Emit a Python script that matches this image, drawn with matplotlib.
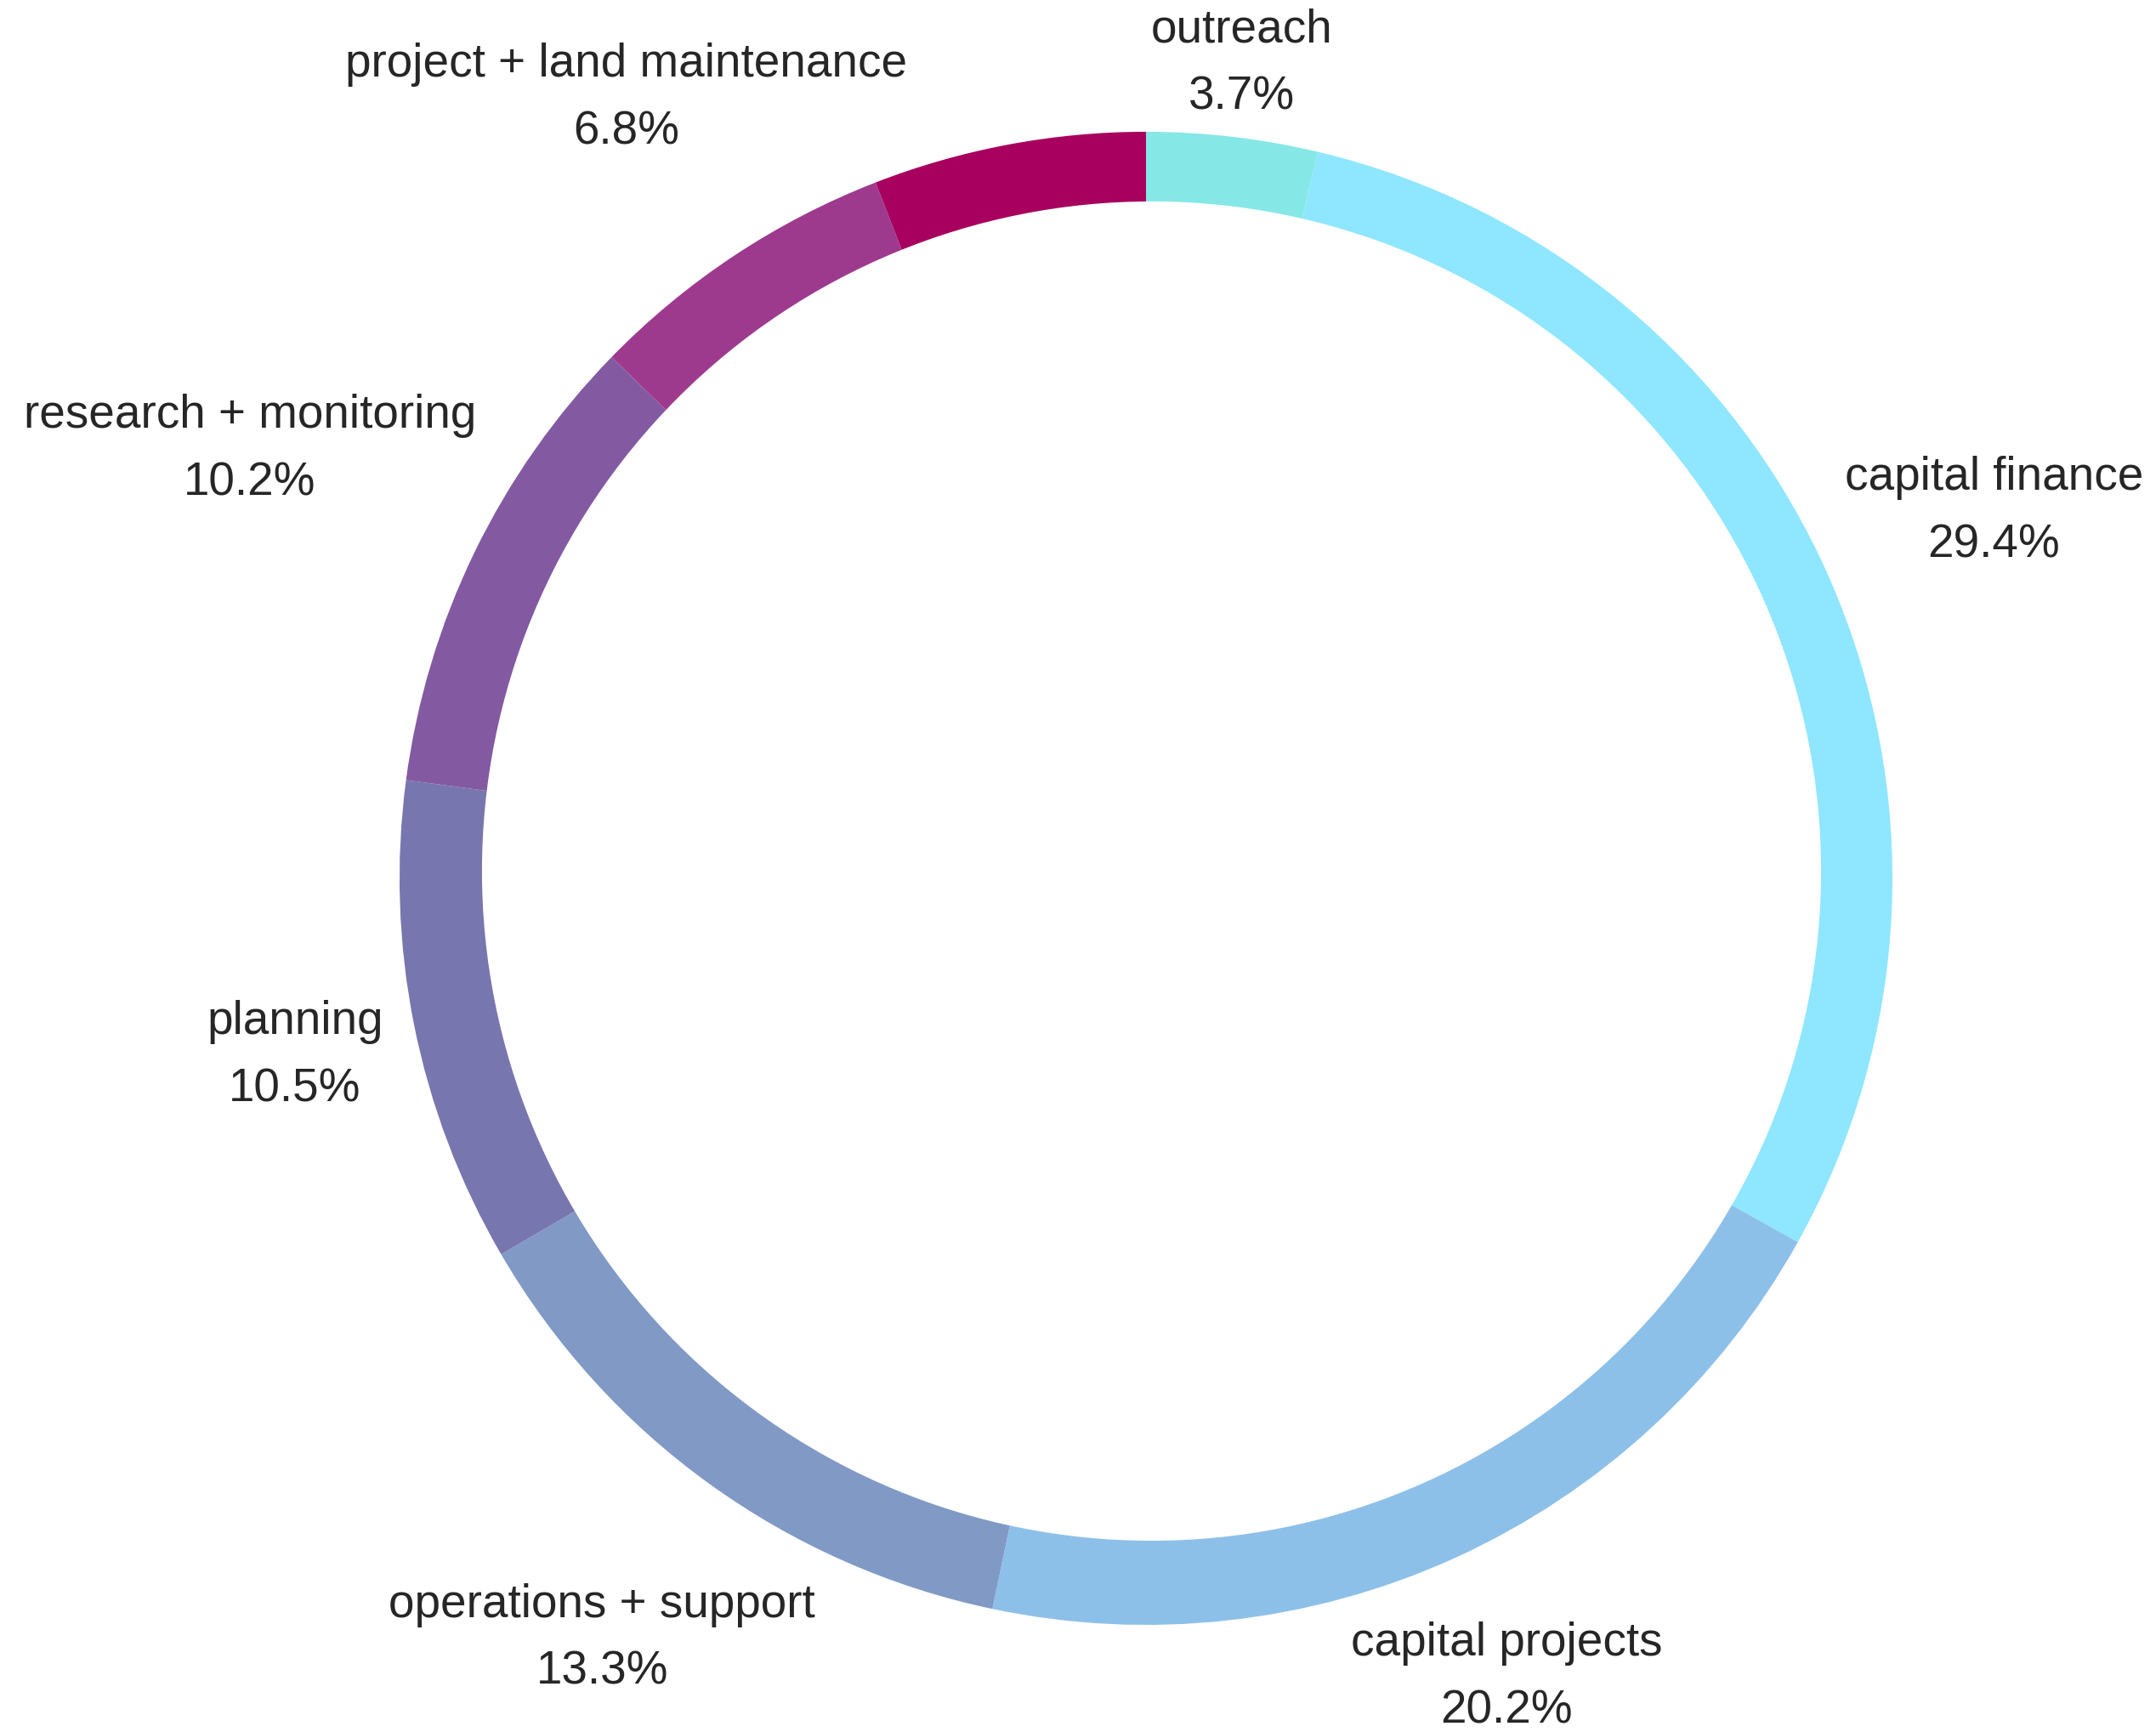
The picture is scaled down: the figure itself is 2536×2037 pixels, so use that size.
import numpy as np
import matplotlib
matplotlib.use("Agg")
import matplotlib.pyplot as plt
from matplotlib.patches import Circle

# --- datos ---
categorias = ['outreach', 'capital finance', 'capital projects', 'operations + support',
              'planning', 'research + monitoring', 'project + land maintenance', '']
valores = [3.7, 29.4, 20.2, 13.3, 10.5, 10.2, 6.8, 5.9]
colores = ['#86E8E6', '#8FE6FF', '#8DC0E8', '#8099C5',
           '#7876AE', '#835AA2', '#9E3A8E', '#A8005E']

# distancia de cada etiqueta al centro (en radios)
dist_etiqueta = [1.108, 1.241, 1.166, 1.245, 1.163, 1.335, 1.263, 1.2]

plt.rcParams['font.family'] = ['Liberation Sans', 'DejaVu Sans']

fig = plt.figure(figsize=(25.36, 20.37), dpi=100)
ax = fig.add_axes([0, 0, 1, 1])

wedges, _ = ax.pie(valores, colors=colores, startangle=90, counterclock=False,
                   radius=1.0, wedgeprops=dict(linewidth=0))

# agujero central (ligeramente desplazado como en el original)
ax.add_patch(Circle((0.0074, 0.0097), 0.897, facecolor='white', edgecolor='none', zorder=3))

total = sum(valores)
for w, nombre, v, d in zip(wedges, categorias, valores, dist_etiqueta):
    if not nombre:
        continue
    ang = np.deg2rad((w.theta1 + w.theta2) / 2)
    ax.text(d * np.cos(ang), d * np.sin(ang) - 0.009, f"{nombre}\n{v / total * 100:.1f}%",
            ha='center', va='center', multialignment='center',
            fontsize=39.5, color='#262626', linespacing=1.68)

ax.set_xlim(-1.5353, 1.3531)
ax.set_ylim(-1.1435, 1.1765)
ax.set_aspect('auto')
ax.axis('off')

fig.savefig('out.png', dpi=100, facecolor='white')
